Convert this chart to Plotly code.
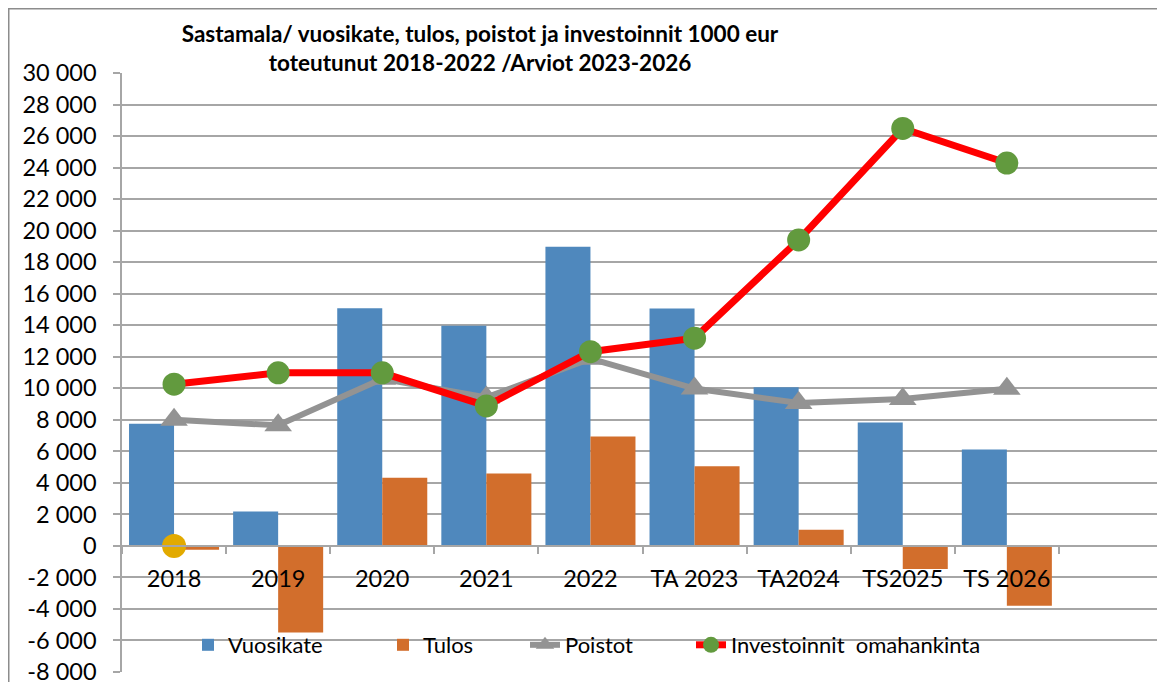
import plotly.graph_objects as go

categories = ["2018", "2019", "2020", "2021", "2022", "TA 2023", "TA2024", "TS2025", "TS 2026", " "]
vuosikate = [7750, 2180, 15080, 13970, 18970, 15060, 10070, 7830, 6120, None]
tulos = [-250, -5500, 4320, 4600, 6940, 5060, 1020, -1470, -3800, None]
poistot = [8000, 7650, 10600, 9420, 11880, 9980, 9060, 9320, 9970, None]
investoinnit = [10260, 10980, 10980, 8880, 12320, 13180, 19410, 26480, 24290, None]
yellow_cat = ["2018"]
yellow_val = [0]

y_ticks = list(range(-8000, 30001, 2000))
y_ticktext = [f"{v:,}".replace(",", " ") for v in y_ticks]

FONT = "Lato, 'Noto Sans', sans-serif"
GRID = "#A6A6A6"

# the page puts the figure 8px in from the top/left, margins allow for that
L, R, T, B = 114, 10, 65, 18
W, H = 1165, 682
PW, PH = W - L - R, H - T - B


def px_x(v):
    # viewport x -> paper x
    return (v - 8 - L) / PW


def px_y(v):
    # viewport y -> paper y
    return 1 - (v - 8 - T) / PH


fig = go.Figure()
fig.add_trace(go.Bar(x=categories, y=vuosikate, name="Vuosikate", marker_color="#4F88BD",
                     marker_line_width=0, legend="legend"))
fig.add_trace(go.Bar(x=categories, y=tulos, name="Tulos", marker_color="#D26E2C",
                     marker_line_width=0, legend="legend2"))
fig.add_trace(go.Scatter(x=categories, y=poistot, name="Poistot", mode="lines+markers",
                         line=dict(color="#939393", width=6),
                         marker=dict(symbol="triangle-up", size=24, color="#939393"),
                         legend="legend3"))
fig.add_trace(go.Scatter(x=categories, y=investoinnit, name="Investoinnit\u00a0 omahankinta",
                         mode="lines+markers", line=dict(color="#FF0000", width=7),
                         marker=dict(symbol="circle", size=23, color="#629A3E"),
                         legend="legend4"))
fig.add_trace(go.Scatter(x=yellow_cat, y=yellow_val, mode="markers", showlegend=False,
                         marker=dict(symbol="circle", size=24, color="#E2AA00")))

leg = dict(orientation="h", xanchor="left", yanchor="middle", y=px_y(645),
           bgcolor="rgba(0,0,0,0)", font=dict(size=22))

fig.update_layout(
    width=W,
    height=H,
    margin=dict(l=L, r=R, t=T, b=B, autoexpand=False),
    paper_bgcolor="white",
    plot_bgcolor="white",
    font=dict(family=FONT, size=20, color="black"),
    barmode="group",
    bargap=0.135,
    bargroupgap=0,
    title=dict(
        text="<b>Sastamala/ vuosikate, tulos, poistot ja investoinnit 1000 eur<br>toteutunut 2018-2022 /Arviot 2023-2026</b>",
        x=472 / W, xanchor="center", y=1 - 34 / H, yanchor="top",
        font=dict(family=FONT, size=22.5, color="black"),
    ),
    legend=dict(leg, x=px_x(229 - 41)),
    legend2=dict(leg, x=px_x(424 - 41)),
    legend3=dict(leg, x=px_x(568 - 43)),
    legend4=dict(leg, x=px_x(734 - 43)),
    xaxis=dict(
        type="category", categoryorder="array", categoryarray=categories,
        range=[-0.5, 9.5], anchor="free", position=8000 / 38000, automargin=False,
        showline=True, linecolor=GRID, linewidth=1.5,
        ticks="outside", tickson="boundaries", ticklen=7, tickcolor=GRID, tickwidth=1.5,
        ticklabelstandoff=12, showgrid=False, tickfont=dict(size=23.5),
    ),
    yaxis=dict(
        range=[-8000, 30000], tickvals=y_ticks, ticktext=y_ticktext, automargin=False,
        showgrid=True, gridcolor=GRID, gridwidth=1.5, zeroline=False,
        showline=True, linecolor=GRID, linewidth=1.5,
        ticks="outside", ticklen=7, tickcolor=GRID, tickwidth=1.5,
        ticklabelstandoff=12, tickfont=dict(size=23.5),
    ),
    shapes=[dict(type="rect", xref="paper", yref="paper",
                 x0=(0.75 - L) / PW, x1=1.2, y0=-0.2, y1=1 + (T - 0.75) / PH,
                 line=dict(color="#8C8C8C", width=1.5), fillcolor="rgba(0,0,0,0)")],
)

fig.write_html("out.html")
